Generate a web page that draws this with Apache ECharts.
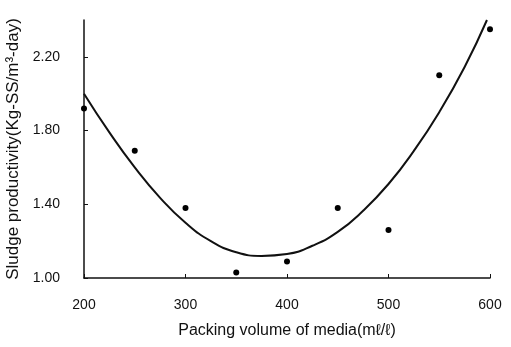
<!DOCTYPE html>
<html>
<head>
<meta charset="utf-8">
<script src="https://cdn.jsdelivr.net/npm/echarts@6/dist/echarts.min.js"></script>
<style>
  html, body { margin: 0; padding: 0; background: #fff; }
  #main { width: 511px; height: 347px; }
</style>
</head>
<body>
<div id="main"></div>
<script>
// measured points
const volume = [200, 250, 300, 350, 400, 450, 500, 550, 600];
const productivity = [1.92, 1.69, 1.38, 1.03, 1.09, 1.38, 1.26, 2.10, 2.35];

// fitted curve
const curveX = [200, 225, 250, 275, 300, 325, 350, 375, 400, 425, 450, 475, 500, 525, 550, 575, 597];
const curveY = [2.000, 1.790, 1.600, 1.435, 1.300, 1.200, 1.140, 1.120, 1.130, 1.175, 1.250, 1.365, 1.510, 1.690, 1.900, 2.145, 2.400];

const yTicks = [1.00, 1.40, 1.80, 2.20];
const xTicks = [200, 300, 400, 500, 600];

const myChart = echarts.init(document.getElementById('main'));

const option = {
    backgroundColor: '#fff',
    animation: false,
    textStyle: { fontFamily: 'Liberation Sans, Arial, sans-serif' },
    grid: { left: 84, right: 21, top: 20, bottom: 69, outerBoundsMode: 'none' },
    xAxis: {
        type: 'value',
        min: 200,
        max: 600,
        interval: 100,
        name: 'Packing volume of media(m\u2113/\u2113)',
        nameLocation: 'middle',
        nameGap: 45,
        nameTextStyle: { color: '#111', fontSize: 16 },
        axisLine: { lineStyle: { color: '#111', width: 1.5 } },
        axisTick: { inside: true, length: 4, lineStyle: { color: '#111' }, customValues: xTicks },
        axisLabel: { color: '#111', fontSize: 14, margin: 20, customValues: xTicks },
        splitLine: { show: false }
    },
    yAxis: {
        type: 'value',
        min: 1,
        max: 2.4,
        interval: 0.4,
        name: 'Sludge productivity(Kg-SS/m\u00b3-day)',
        nameLocation: 'middle',
        nameGap: 57,
        nameTextStyle: { color: '#111', fontSize: 17 },
        axisLine: { show: true, lineStyle: { color: '#111', width: 1.5 } },
        axisTick: { show: true, inside: true, length: 4, lineStyle: { color: '#111' }, customValues: yTicks },
        axisLabel: {
            color: '#111',
            fontSize: 14,
            margin: 24,
            customValues: yTicks,
            formatter: (v) => v.toFixed(2)
        },
        splitLine: { show: false }
    },
    series: [
        {
            type: 'line',
            smooth: true,
            symbol: 'none',
            lineStyle: { color: '#111', width: 2 },
            data: curveX.map((x, i) => [x, curveY[i]])
        },
        {
            type: 'scatter',
            symbol: 'circle',
            symbolSize: 6,
            itemStyle: { color: '#000', opacity: 1 },
            data: volume.map((x, i) => [x, productivity[i]])
        }
    ]
};

myChart.setOption(option);
</script>
</body>
</html>
